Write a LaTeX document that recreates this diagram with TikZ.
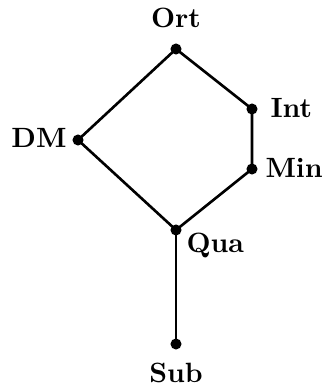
\documentclass[tikz,border=0pt]{standalone}
\begin{document}
\begin{tikzpicture}[x=0.38pt,y=-0.38pt,
  dot/.style={circle,fill=black,inner sep=0pt,minimum size=4.2pt},
  lab/.style={inner sep=0pt,font=\fontsize{10.6}{13}\selectfont\bfseries},
  edge/.style={line width=1pt}]
\useasboundingbox (0,0) rectangle (323,387);
\node[dot] (ort) at (176,49) {};
\node[dot] (int) at (252,109) {};
\node[dot] (dm) at (78,140) {};
\node[dot] (min) at (252,169) {};
\node[dot] (qua) at (176,230) {};
\node[dot] (sub) at (176,344) {};
\draw[edge] (ort.center) -- (int.center) -- (min.center) -- (qua.center) -- (dm.center) -- (ort.center);
\draw[edge] (qua.center) -- (sub.center);
\node[lab,anchor=base] (tort) at (176,28) {Ort};
\node[lab,anchor=base west] (tint) at (270,118) {Int};
\node[lab,anchor=base east] (tdm) at (67,148) {DM};
\node[lab,anchor=base west] (tmin) at (265,178) {Min};
\node[lab,anchor=base west] (tqua) at (186,252) {Qua};
\node[lab,anchor=base] (tsub) at (176,382) {Sub};
\end{tikzpicture}
\end{document}
